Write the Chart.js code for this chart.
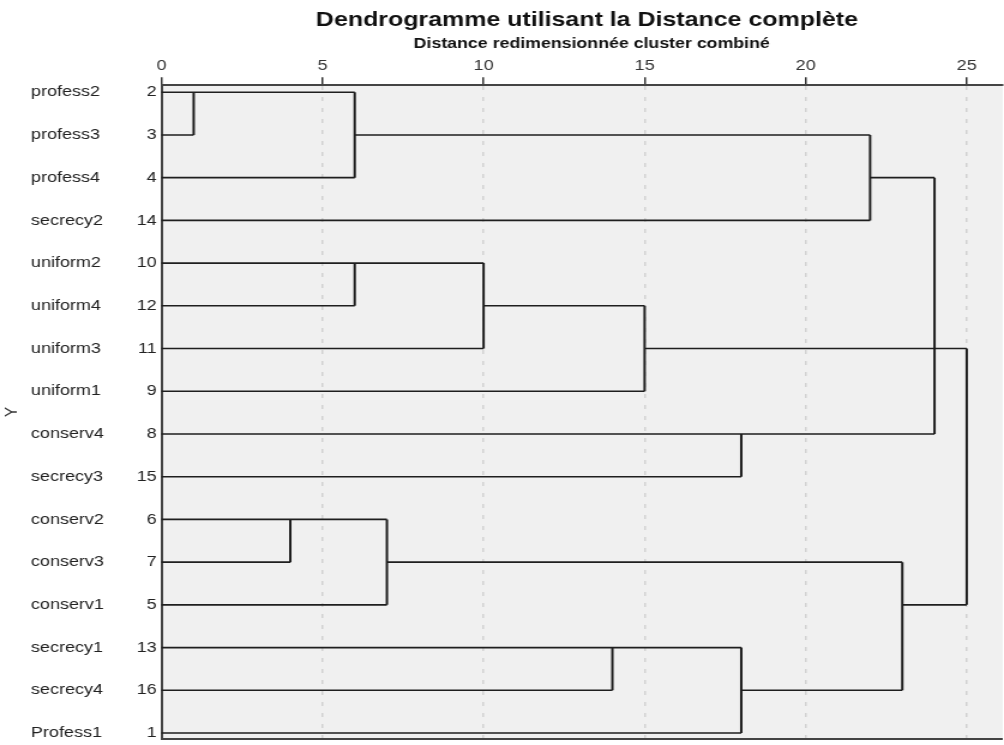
<!DOCTYPE html>
<html>
<head>
<meta charset="utf-8">
<title>Dendrogramme utilisant la Distance complète</title>
<script src="https://cdn.jsdelivr.net/npm/chart.js@4"></script>
<style>
  html, body { margin: 0; padding: 0; background: #ffffff; overflow: hidden; }
  /* the chart is laid out narrower and widened horizontally, like the wide SPSS rendering */
  #wrap { position: absolute; left: 0; top: 0; width: 837px; height: 745px;
          transform: scaleX(1.19952); transform-origin: 0 0; }
</style>
</head>
<body>
<div id="wrap"><canvas id="c"></canvas></div>
<script>
// Leaves, top to bottom
const leafNames = ['profess2', 'profess3', 'profess4', 'secrecy2', 'uniform2', 'uniform4',
                   'uniform3', 'uniform1', 'conserv4', 'secrecy3', 'conserv2', 'conserv3',
                   'conserv1', 'secrecy1', 'secrecy4', 'Profess1'];
const leafIds = [2, 3, 4, 14, 10, 12, 11, 9, 8, 15, 6, 7, 5, 13, 16, 1];

// Rescaled distance axis ticks
const distanceTicks = [0, 5, 10, 15, 20, 25];

// Agglomeration steps: distance of the join, row and start distance of the upper
// and lower branch that meet there
const mergeDistance = [1, 6, 22, 6, 10, 15, 18, 24, 4, 7, 14, 18, 23, 25];
const upperRow      = [0, 0, 1, 4, 4, 5, 8, 2, 10, 10, 13, 13, 11, 6];
const upperFrom     = [0, 1, 6, 0, 6, 10, 0, 22, 0, 4, 0, 14, 7, 15];
const lowerRow      = [1, 2, 3, 5, 6, 7, 9, 8, 11, 12, 14, 15, 14, 12];
const lowerFrom     = [0, 0, 0, 0, 0, 0, 0, 18, 0, 0, 0, 0, 18, 23];

// Turn each step into its two horizontal branches and the vertical join
const gap = { x: null, y: null };
const branches = [];
const joins = [];
mergeDistance.forEach((d, i) => {
  branches.push({ x: upperFrom[i], y: upperRow[i] }, { x: d, y: upperRow[i] }, gap);
  branches.push({ x: lowerFrom[i], y: lowerRow[i] }, { x: d, y: lowerRow[i] }, gap);
  joins.push({ x: d, y: upperRow[i] }, { x: d, y: lowerRow[i] }, gap);
});

const FONT = "'Liberation Sans', Arial, sans-serif";
const TITLE = 'Dendrogramme utilisant la Distance complète';
const SUBTITLE = 'Distance redimensionnée cluster combiné';
const rowTicks = () => leafIds.map((_, i) => ({ value: i }));

// keep the row axes from reserving extra room above and below the plot
const noEdgePadding = s => { s.paddingTop = 0; s.paddingBottom = 0; };

const plotFrame = {
  id: 'plotFrame',
  afterLayout(chart) {
    // nudge the headings slightly right of the plot centre
    chart.boxes.forEach(b => {
      if (!b.options || typeof b.options.text !== 'string') return;
      const dx = b.options.text === TITLE ? 4 : (b.options.text === SUBTITLE ? 8 : 0);
      b.left += dx; b.right += dx;
    });
  },
  beforeDraw(chart) {
    const { ctx, chartArea: a } = chart;
    ctx.save();
    ctx.fillStyle = '#f0f0f0';
    ctx.fillRect(a.left, a.top, a.right - a.left, a.bottom - a.top);
    ctx.restore();
  },
  afterDraw(chart) {
    const { ctx, chartArea: a } = chart;
    ctx.save();
    ctx.strokeStyle = '#444444';
    ctx.lineWidth = 2;
    ctx.beginPath();
    ctx.moveTo(a.left, a.bottom);
    ctx.lineTo(a.right, a.bottom);
    ctx.stroke();
    ctx.restore();
  }
};

new Chart(document.getElementById('c'), {
  type: 'scatter',
  data: {
    datasets: [
      { data: branches, showLine: true, spanGaps: false, borderColor: '#1e1e1e',
        borderWidth: 1.6, pointRadius: 0, pointHoverRadius: 0, clip: false },
      { data: joins, showLine: true, spanGaps: false, borderColor: '#1e1e1e',
        borderWidth: 2, pointRadius: 0, pointHoverRadius: 0, clip: false }
    ]
  },
  options: {
    responsive: true,
    maintainAspectRatio: false,
    animation: false,
    events: [],
    layout: { padding: { top: 0, right: 0, bottom: 6, left: 0 } },
    plugins: {
      legend: { display: false },
      tooltip: { enabled: false },
      title: {
        display: true,
        text: TITLE,
        fullSize: false,
        color: '#111111',
        font: { family: FONT, size: 20.8, weight: 'bold' },
        padding: { top: 8, bottom: 0 }
      },
      subtitle: {
        display: true,
        text: SUBTITLE,
        fullSize: false,
        color: '#111111',
        font: { family: FONT, size: 14.8, weight: 'bold' },
        padding: { top: 2.5, bottom: 0 }
      }
    },
    scales: {
      x: {
        type: 'linear',
        position: 'top',
        min: 0,
        max: 26.12,
        afterBuildTicks: s => { s.ticks = distanceTicks.map(v => ({ value: v })); },
        afterFit: s => { s.height = 32; s.paddingLeft = 0; s.paddingRight = 0; },
        ticks: { color: '#333333', font: { family: FONT, size: 15 }, padding: 2.5, maxRotation: 0 },
        grid: {
          color: c => (c.tick && c.tick.value === 0 ? 'transparent' : '#d2d2d2'),
          lineWidth: 1.5,
          tickLength: 8,
          tickColor: '#333333',
          tickWidth: 1.5,
          drawTicks: true
        },
        border: { display: true, color: '#444444', width: 2, dash: [4, 7] }
      },
      y: {
        type: 'linear',
        position: 'left',
        weight: 0,
        reverse: true,
        min: -0.164,
        max: 15.14,
        afterBuildTicks: s => { s.ticks = rowTicks(); },
        afterFit: s => { s.width = 30; noEdgePadding(s); },
        ticks: {
          color: '#222222',
          font: { family: FONT, size: 15 },
          padding: 4,
          autoSkip: false,
          callback: v => leafIds[v]
        },
        grid: { display: false, drawTicks: false },
        border: { display: true, color: '#444444', width: 2 }
      },
      names: {
        type: 'linear',
        position: 'left',
        weight: 1,
        reverse: true,
        min: -0.164,
        max: 15.14,
        afterBuildTicks: s => { s.ticks = rowTicks(); },
        afterFit: s => { s.width = 78.8; noEdgePadding(s); },
        ticks: {
          color: '#222222',
          font: { family: FONT, size: 15 },
          padding: 4,
          crossAlign: 'far',
          autoSkip: false,
          callback: v => leafNames[v]
        },
        grid: { display: false, drawTicks: false },
        border: { display: false }
      },
      yTitle: {
        type: 'linear',
        position: 'left',
        weight: 2,
        reverse: true,
        min: -0.164,
        max: 15.14,
        afterFit: s => { s.width = 25.8; noEdgePadding(s); },
        ticks: { display: false },
        title: {
          display: true,
          text: 'Y',
          color: '#333333',
          font: { family: FONT, size: 15 },
          padding: { top: 1, bottom: 0 }
        },
        grid: { display: false, drawTicks: false },
        border: { display: false }
      }
    }
  },
  plugins: [plotFrame]
});
</script>
</body>
</html>
